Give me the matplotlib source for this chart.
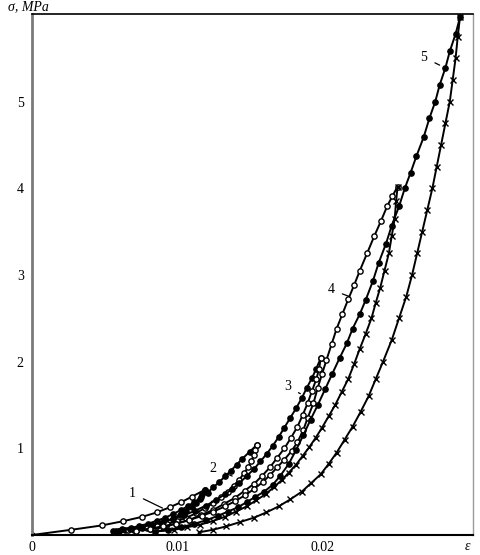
import numpy as np
import matplotlib
matplotlib.use('Agg')
import matplotlib.pyplot as plt

plt.rcParams['font.family'] = ['Liberation Serif', 'DejaVu Serif']

# strain values in units of 1e-3, stress in MPa
load1_eps = [0, 2.7, 4.8, 6.3, 7.6, 8.6, 9.5, 10.3, 11.0, 11.9]
load1_sig = [0, 0.06, 0.11, 0.16, 0.21, 0.26, 0.32, 0.38, 0.44, 0.52]

unload1_eps = [11.9, 11.75, 11.6, 11.3, 11.0, 10.6, 10.2, 9.7, 9.2, 8.65, 8.1, 7.55, 7.0, 6.4, 5.8]
unload1_sig = [0.52, 0.47, 0.42, 0.37, 0.32, 0.275, 0.23, 0.19, 0.15, 0.12, 0.09, 0.075, 0.06, 0.055, 0.05]

load2_eps = [5.6, 6.2, 6.8, 7.4, 8.0, 8.6, 9.2, 9.75, 10.3, 10.75, 11.2, 11.65, 12.1, 12.5, 12.9,
             13.3, 13.7, 14.1, 14.5, 15.0, 15.5]
load2_sig = [0.05, 0.065, 0.08, 0.105, 0.13, 0.165, 0.20, 0.245, 0.29, 0.335, 0.38, 0.435, 0.49, 0.55, 0.61,
             0.675, 0.74, 0.81, 0.88, 0.96, 1.04]

unload2_eps = [15.5, 15.4, 15.3, 15.1, 14.9, 14.6, 14.3, 13.9, 13.5, 13.0, 12.5, 11.9, 11.3, 10.65, 10.0,
               9.3, 8.6, 7.9, 7.2, 6.6, 6.0]
unload2_sig = [1.04, 0.98, 0.92, 0.85, 0.78, 0.71, 0.64, 0.57, 0.50, 0.435, 0.37, 0.31, 0.25, 0.20, 0.16,
               0.13, 0.10, 0.08, 0.06, 0.055, 0.05]

load3_eps = [6.0, 6.75, 7.5, 8.25, 9.0, 9.75, 10.5, 11.25, 12.0, 12.65, 13.3, 13.8, 14.3, 14.8, 15.3,
             15.75, 16.2, 16.6, 17.0, 17.4, 17.8, 18.2, 18.6, 18.95, 19.3, 19.6, 19.9]
load3_sig = [0.05, 0.07, 0.09, 0.12, 0.15, 0.19, 0.23, 0.28, 0.34, 0.40, 0.47, 0.53, 0.60, 0.68, 0.76,
             0.85, 0.94, 1.03, 1.13, 1.24, 1.35, 1.46, 1.58, 1.70, 1.81, 1.92, 2.04]

unload3_eps = [19.9, 19.8, 19.6, 19.3, 19.0, 18.65, 18.3, 17.85, 17.4, 16.9, 16.4, 15.85, 15.3, 14.65, 14.0,
               13.25, 12.5, 11.65, 10.8, 9.9, 9.0, 8.1, 7.2]
unload3_sig = [2.04, 1.92, 1.80, 1.66, 1.52, 1.38, 1.25, 1.12, 1.00, 0.89, 0.78, 0.68, 0.59, 0.51, 0.43,
               0.36, 0.29, 0.23, 0.17, 0.13, 0.09, 0.07, 0.05]

load4_eps = [7.2, 8.1, 9.0, 9.9, 10.8, 11.7, 12.5, 13.3, 14.0, 14.7, 15.3, 15.9, 16.4, 16.9, 17.4,
             17.9, 18.3, 18.7, 19.0, 19.4, 19.7, 20.0, 20.3, 20.65, 21.0, 21.4, 21.8, 22.2, 22.6, 23.1,
             23.6, 24.05, 24.5, 24.85, 25.2]
load4_sig = [0.05, 0.07, 0.10, 0.13, 0.17, 0.22, 0.27, 0.33, 0.39, 0.46, 0.53, 0.61, 0.69, 0.78, 0.87,
             0.97, 1.07, 1.21, 1.35, 1.52, 1.70, 1.86, 2.02, 2.20, 2.38, 2.55, 2.72, 2.88, 3.05, 3.25,
             3.45, 3.62, 3.80, 3.91, 4.02]

unload4_eps = [25.2, 25.1, 25.0, 24.8, 24.6, 24.3, 24.0, 23.7, 23.4, 23.0, 22.6, 22.2, 21.8, 21.35, 20.9,
               20.45, 20.0, 19.55, 19.1, 18.65, 18.2, 17.7, 17.2, 16.65, 16.1, 15.45, 14.8, 14.05, 13.3, 12.45,
               11.6, 10.7, 9.8, 8.5]
unload4_sig = [4.02, 3.85, 3.65, 3.45, 3.25, 3.05, 2.85, 2.68, 2.50, 2.32, 2.15, 1.97, 1.80, 1.65, 1.50,
               1.37, 1.24, 1.12, 1.01, 0.91, 0.81, 0.72, 0.63, 0.55, 0.47, 0.40, 0.33, 0.27, 0.21, 0.16,
               0.12, 0.09, 0.06, 0.04]

load5_eps = [8.5, 9.4, 10.3, 11.2, 12.0, 12.8, 13.5, 14.2, 14.8, 15.4, 16.0, 16.6, 17.1, 17.7, 18.2,
             18.7, 19.2, 19.7, 20.2, 20.7, 21.2, 21.7, 22.1, 22.6, 23.0, 23.5, 23.9, 24.4, 24.8, 25.3,
             25.7, 26.1, 26.5, 27.0, 27.4, 27.8, 28.1, 28.5, 28.8, 29.2, 29.5]
load5_sig = [0.04, 0.06, 0.09, 0.13, 0.17, 0.22, 0.27, 0.32, 0.38, 0.44, 0.50, 0.58, 0.68, 0.82, 0.98,
             1.15, 1.33, 1.50, 1.68, 1.86, 2.04, 2.21, 2.38, 2.55, 2.71, 2.93, 3.14, 3.36, 3.57, 3.79,
             4.00, 4.18, 4.37, 4.59, 4.81, 5.00, 5.19, 5.39, 5.58, 5.78, 5.97]

unload5_eps = [29.5, 29.35, 29.2, 29.0, 28.8, 28.5, 28.2, 27.9, 27.6, 27.25, 26.9, 26.55, 26.2, 25.8, 25.3,
               24.8, 24.2, 23.7, 23.2, 22.65, 22.1, 21.55, 21.0, 20.45, 19.9, 19.25, 18.6, 17.8, 17.0, 16.15,
               15.3, 14.35, 13.4, 12.45, 11.5]
unload5_sig = [5.97, 5.75, 5.50, 5.25, 5.00, 4.75, 4.50, 4.25, 4.00, 3.75, 3.50, 3.25, 3.00, 2.75, 2.50,
               2.25, 2.00, 1.80, 1.60, 1.42, 1.25, 1.10, 0.95, 0.82, 0.70, 0.60, 0.50, 0.41, 0.33, 0.26,
               0.20, 0.15, 0.10, 0.06, 0.03]

# curve number labels: text position and leader end (eps 1e-3, MPa)
label_names = ['1', '2', '3', '4', '5']
label_text_eps = [6.9, 12.5, 17.6, 20.6, 27.0]
label_text_sig = [0.48, 0.77, 1.71, 2.83, 5.51]
label_end_eps = [9.0, 13.8, 18.5, 21.9, 28.1]
label_end_sig = [0.31, 0.68, 1.63, 2.75, 5.42]

branches = [
    (load1_eps, load1_sig, 'open'),
    (unload1_eps, unload1_sig, 'filled'),
    (load2_eps, load2_sig, 'filled'),
    (unload2_eps, unload2_sig, 'open'),
    (load3_eps, load3_sig, 'filled'),
    (unload3_eps, unload3_sig, 'open'),
    (load4_eps, load4_sig, 'open'),
    (unload4_eps, unload4_sig, 'cross'),
    (load5_eps, load5_sig, 'filled'),
    (unload5_eps, unload5_sig, 'cross'),
]

fig = plt.figure(figsize=(4.8, 5.55), dpi=100)
ax = fig.add_axes([32 / 480, 20 / 555, 441 / 480, 521 / 555])

for eps, sig, style in branches:
    e = np.array(eps) * 1e-3
    if style == 'open':
        ax.plot(e, sig, color='black', linewidth=1.4, marker='o', markersize=3.8,
                markerfacecolor='white', markeredgecolor='black', markeredgewidth=1.0)
    elif style == 'filled':
        ax.plot(e, sig, color='black', linewidth=1.4, marker='o', markersize=3.8,
                markerfacecolor='black', markeredgecolor='black')
    else:
        ax.plot(e, sig, color='black', linewidth=1.4, marker='x', markersize=3.8,
                markeredgewidth=1.0)

for name, tx, ty, ex, ey in zip(label_names, label_text_eps, label_text_sig,
                                label_end_eps, label_end_sig):
    ax.annotate(name, xy=(ex * 1e-3, ey), xytext=(tx * 1e-3, ty),
                fontsize=10, ha='center', va='center',
                arrowprops=dict(arrowstyle='-', color='black', linewidth=0.9,
                                shrinkA=4, shrinkB=0))

ax.set_xlim(0, 0.0304)
ax.set_ylim(0, 6.01)
ax.set_xticks([0, 0.01, 0.02])
ax.set_xticklabels(['0', '0.01', '0.02'])
ax.set_yticks([1, 2, 3, 4, 5])
ax.set_yticklabels(['1', '2', '3', '4', '5'])
ax.tick_params(length=0, labelsize=10, pad=4)
ax.tick_params(axis='y', pad=6)

ax.spines['left'].set_color('#7a7a7a')
ax.spines['left'].set_linewidth(2.0)
ax.spines['right'].set_color('#9a9a9a')
ax.spines['right'].set_linewidth(1.0)
ax.spines['top'].set_linewidth(1.2)
ax.spines['bottom'].set_linewidth(1.5)

fig.text(8 / 480, 1 - 7 / 555, 'σ, MPa', fontsize=10, style='italic', ha='left', va='center')
fig.text(467 / 480, 1 - 546 / 555, 'ε', fontsize=10, style='italic', ha='center', va='center')

fig.savefig('out.png', dpi=100)
